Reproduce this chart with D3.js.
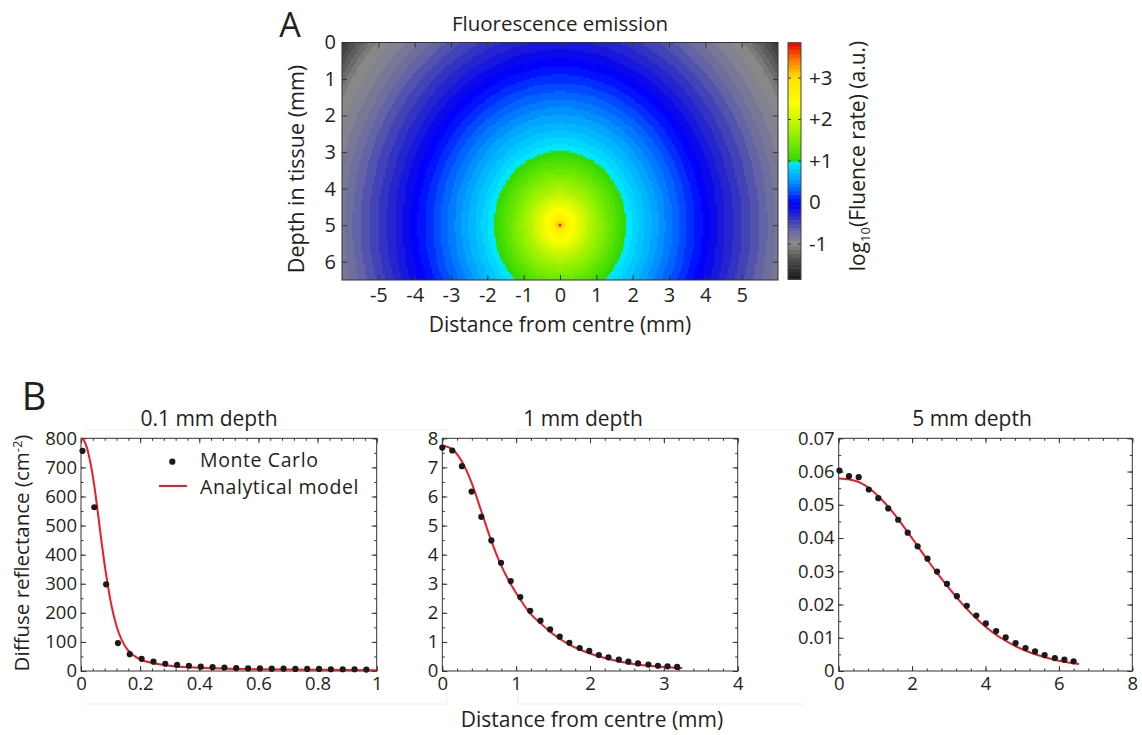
<!DOCTYPE html>
<html>
<head>
<meta charset="utf-8">
<script src="https://cdn.jsdelivr.net/npm/d3@7"></script>
<style>
  body { margin: 0; background: #fff; }
  svg { display: block; font-family: "Open Sans", sans-serif; }
</style>
</head>
<body>
<svg id="fig" width="1142" height="735"></svg>
<script>
// ---------------- data ----------------
// Panel A: log10 fluence rate versus (laterally weighted) distance from the source at (0 mm, 5 mm)
const profileRadius = [0, 0.05, 0.1, 0.2, 0.35, 0.5, 0.75, 1, 1.5, 2, 2.5, 3, 3.5, 4, 4.5, 5, 5.5, 6, 6.5, 7, 7.5, 8, 8.5];
const profileLog    = [3.84, 3.2, 2.95, 2.7, 2.45, 2.3, 2.0, 1.75, 1.35, 1.0, 0.76, 0.55, 0.34, 0.14, -0.05, -0.24, -0.42, -0.58, -0.76, -0.92, -1.05, -1.35, -1.7];
const sourceX = 0, sourceDepth = 5;
const lateralWeight = 1.11;

// colour map for log10 fluence rate
const cmapValues = [-1.86, -1.4, -1.0, -0.7, -0.4, -0.1, 0.0, 0.3, 0.6, 0.999, 1.0, 1.5, 2.0, 2.4, 3.0, 3.4, 3.84];
const cmapColors = ["#1a1a1a", "#4a4a4a", "#8a8a8a", "#6a6aa0", "#3535c0", "#0505f0", "#0000ff", "#0060ff",
                    "#00a8ff", "#00f0ff", "#30d800", "#80ee00", "#ccf800", "#ffff00", "#ffe000", "#ff8000", "#e80000"];
const cbarTicks = [-1, 0, 1, 2, 3];
const cbarTickLabels = ["-1", "0", "+1", "+2", "+3"];
const offsetTicks = [-5, -4, -3, -2, -1, 0, 1, 2, 3, 4, 5];
const depthTicks = [0, 1, 2, 3, 4, 5, 6];

// Panel B: diffuse reflectance profiles
const mc01X = [0.005, 0.045, 0.085, 0.125, 0.165, 0.205, 0.245, 0.285, 0.325, 0.365, 0.405, 0.445, 0.485,
               0.525, 0.565, 0.605, 0.645, 0.685, 0.725, 0.765, 0.805, 0.845, 0.885, 0.925, 0.965];
const mc01Y = [757, 563, 298, 96, 58, 42, 32, 25, 21, 18, 15, 13, 12, 10, 9, 9, 8, 8, 7, 7, 7, 6, 6, 6, 5];
const model01X = [0, 0.01, 0.02, 0.03, 0.04, 0.05, 0.06, 0.07, 0.08, 0.09, 0.10, 0.12, 0.14, 0.16, 0.18, 0.20, 0.25, 0.30, 0.40, 0.50, 0.60, 0.80, 1.00];
const model01Y = [800, 792, 768, 725, 670, 600, 520, 440, 365, 300, 240, 155, 102, 70, 52, 40, 26, 18, 11, 8, 6, 4, 3];

const mc1X = [0, 0.135, 0.266, 0.397, 0.528, 0.664, 0.795, 0.926, 1.056, 1.19, 1.33, 1.46, 1.59,
              1.72, 1.86, 1.99, 2.12, 2.25, 2.39, 2.52, 2.65, 2.79, 2.92, 3.05, 3.18];
const mc1Y = [7.68, 7.58, 7.04, 6.17, 5.30, 4.49, 3.72, 3.09, 2.54, 2.07, 1.73, 1.43, 1.18,
              0.97, 0.79, 0.69, 0.55, 0.47, 0.39, 0.32, 0.26, 0.22, 0.18, 0.16, 0.14];
const model1X = [0, 0.135, 0.266, 0.4, 0.53, 0.66, 0.795, 0.93, 1.06, 1.19, 1.33, 1.46, 1.59, 1.72, 1.86, 1.99, 2.25, 2.52, 2.79, 3.05, 3.25];
const model1Y = [7.75, 7.62, 7.2, 6.45, 5.48, 4.5, 3.64, 2.97, 2.44, 1.98, 1.64, 1.35, 1.11, 0.91, 0.74, 0.61, 0.41, 0.27, 0.18, 0.13, 0.10];

const mc5X = [0.02, 0.28, 0.545, 0.82, 1.08, 1.35, 1.62, 1.88, 2.15, 2.42, 2.68, 2.95, 3.22,
              3.49, 3.75, 4.01, 4.29, 4.55, 4.82, 5.09, 5.35, 5.61, 5.89, 6.15, 6.40];
const mc5Y = [0.0603, 0.0586, 0.0583, 0.0546, 0.0520, 0.0489, 0.0455, 0.0416, 0.0375, 0.0338, 0.0299, 0.0262, 0.0225,
              0.0196, 0.0167, 0.0143, 0.0120, 0.0101, 0.0084, 0.0069, 0.0059, 0.0048, 0.0039, 0.0034, 0.0029];
const model5X = [0, 0.3, 0.6, 0.9, 1.2, 1.5, 1.8, 2.1, 2.4, 2.7, 3.0, 3.3, 3.6, 3.9, 4.2, 4.5, 4.8, 5.1, 5.4, 5.7, 6.0, 6.3, 6.55];
const model5Y = [0.0579, 0.0576, 0.0566, 0.0544, 0.0512, 0.0474, 0.0430, 0.0384, 0.0337, 0.0292, 0.0250, 0.0210,
                 0.0174, 0.0143, 0.0116, 0.0094, 0.0076, 0.0061, 0.0049, 0.0039, 0.0031, 0.0025, 0.0021];

const panelTitles = ["0.1 mm depth", "1 mm depth", "5 mm depth"];
const legendLabels = ["Monte Carlo", "Analytical model"];

// ---------------- drawing ----------------
const svg = d3.select("#fig");
const ink = "#231f20";
const red = "#ed1c24";

function styleAxis(g, fs) {
  g.select(".domain").remove();
  g.selectAll(".tick line").attr("stroke", "#333");
  g.selectAll(".tick text").attr("font-size", fs).attr("fill", ink).attr("font-family", "Open Sans");
}

// ===== Panel A: fluence map =====
const heat = { left: 342, right: 778, top: 42.5, bottom: 280 };
const xA = d3.scaleLinear().domain([-6, 6]).range([heat.left, heat.right]);
const yA = d3.scaleLinear().domain([0, 6.5]).range([heat.top, heat.bottom]);

const radialLog = d3.scaleLinear().domain(profileRadius).range(profileLog).clamp(true);
const cmapDomain = [cmapValues[0], cmapValues[cmapValues.length - 1]];
const colorRaw = d3.scaleLinear().domain(cmapValues).range(cmapColors).interpolate(d3.interpolateRgb).clamp(true);
const nLevels = 64;
const levelScale = d3.scaleQuantize().domain(cmapDomain).range(d3.range(nLevels));
const levelValue = l => cmapDomain[0] + (l + 0.5) * (cmapDomain[1] - cmapDomain[0]) / nLevels;
const colorOf = v => colorRaw(levelValue(levelScale(v)));

// raster of the field, one pixel per 0.05 mm cell
const cell = 0.05;
const nx = Math.round(12 / cell) + 1, ny = Math.round(6.5 / cell) + 1;
const canvas = document.createElement("canvas");
canvas.width = nx; canvas.height = ny;
const ctx = canvas.getContext("2d");
for (let i = 0; i < nx; i++) {
  for (let j = 0; j < ny; j++) {
    const x = -6 + i * cell, y = j * cell;
    const r = Math.hypot((x - sourceX) * lateralWeight, y - sourceDepth);
    ctx.fillStyle = colorOf(radialLog(r));
    ctx.fillRect(i, j, 1, 1);
  }
}
svg.append("clipPath").attr("id", "heatClip")
  .append("rect").attr("x", heat.left).attr("y", heat.top)
  .attr("width", heat.right - heat.left).attr("height", heat.bottom - heat.top);
svg.append("image")
  .attr("href", canvas.toDataURL())
  .attr("x", xA(-6 - cell / 2)).attr("y", yA(-cell / 2))
  .attr("width", xA(6 + cell / 2) - xA(-6 - cell / 2))
  .attr("height", yA(6.5 + cell / 2) - yA(-cell / 2))
  .attr("preserveAspectRatio", "none")
  .style("image-rendering", "pixelated")
  .attr("clip-path", "url(#heatClip)");

svg.append("g").attr("transform", `translate(0,${heat.bottom})`)
  .call(d3.axisBottom(xA).tickValues(offsetTicks).tickFormat(d => String(d)).tickSizeInner(-5).tickSizeOuter(0).tickPadding(8))
  .call(g => styleAxis(g, 20));
svg.append("g").attr("transform", `translate(${heat.left},0)`)
  .call(d3.axisLeft(yA).tickValues(depthTicks).tickFormat(d => String(d)).tickSizeInner(-5).tickSizeOuter(0).tickPadding(6))
  .call(g => styleAxis(g, 20));
svg.append("g").attr("transform", `translate(${heat.right},0)`)
  .call(d3.axisRight(yA).tickValues(depthTicks).tickFormat("").tickSizeInner(-5).tickSizeOuter(0))
  .call(g => styleAxis(g, 20));
svg.append("g").attr("transform", `translate(0,${heat.top})`)
  .call(d3.axisTop(xA).tickValues(offsetTicks).tickFormat("").tickSizeInner(-5).tickSizeOuter(0))
  .call(g => styleAxis(g, 20));
svg.append("rect").attr("x", heat.left).attr("y", heat.top)
  .attr("width", heat.right - heat.left).attr("height", heat.bottom - heat.top)
  .attr("fill", "none").attr("stroke", "#333").attr("stroke-width", 1);

svg.append("text").attr("x", 560).attr("y", 31).attr("text-anchor", "middle")
  .attr("font-size", 20.5).attr("fill", ink).text("Fluorescence emission");
svg.append("text").attr("x", 560).attr("y", 332).attr("text-anchor", "middle")
  .attr("font-size", 21).attr("fill", ink).text("Distance from centre (mm)");
svg.append("text").attr("transform", "translate(304,169) rotate(-90)").attr("text-anchor", "middle")
  .attr("font-size", 21.5).attr("fill", ink).text("Depth in tissue (mm)");
svg.append("text").attr("x", 290).attr("y", 37).attr("text-anchor", "middle")
  .attr("font-size", 34).attr("fill", ink).text("A");

// colour bar
const cbar = { left: 788, right: 801, top: 42.7, bottom: 279.3 };
const yC = d3.scaleLinear().domain(cmapDomain).range([cbar.bottom, cbar.top]);
const levelEdge = l => cmapDomain[0] + l * (cmapDomain[1] - cmapDomain[0]) / nLevels;
svg.append("g").selectAll("rect").data(d3.range(nLevels)).join("rect")
  .attr("x", cbar.left).attr("width", cbar.right - cbar.left)
  .attr("y", l => yC(levelEdge(l + 1)))
  .attr("height", l => yC(levelEdge(l)) - yC(levelEdge(l + 1)) + 0.5)
  .attr("fill", l => colorRaw(levelValue(l)));
svg.append("g").attr("transform", `translate(${cbar.right},0)`)
  .call(d3.axisRight(yC).tickValues(cbarTicks).tickFormat((d, i) => cbarTickLabels[i]).tickSizeInner(-3).tickSizeOuter(0).tickPadding(8))
  .call(g => styleAxis(g, 20.5));
svg.append("g").attr("transform", `translate(${cbar.left},0)`)
  .call(d3.axisLeft(yC).tickValues(cbarTicks).tickFormat("").tickSizeInner(-3).tickSizeOuter(0))
  .call(g => styleAxis(g, 20));
svg.append("rect").attr("x", cbar.left).attr("y", cbar.top)
  .attr("width", cbar.right - cbar.left).attr("height", cbar.bottom - cbar.top)
  .attr("fill", "none").attr("stroke", "#444").attr("stroke-width", 1);
const cbLabel = svg.append("text").attr("transform", "translate(865,156) rotate(-90)")
  .attr("text-anchor", "middle").attr("font-size", 21).attr("fill", ink);
cbLabel.append("tspan").text("log");
cbLabel.append("tspan").attr("font-size", 13).attr("dy", 5).text("10");
cbLabel.append("tspan").attr("dy", -5).text("(Fluence rate) (a.u.)");

// ===== Panel B: reflectance profiles =====
const bTop = 438.3, bBottom = 671;

// faint edges of the panel backgrounds
svg.append("g").attr("stroke", "#eeeeee").attr("stroke-width", 1)
  .call(g => g.append("line").attr("x1", 85).attr("x2", 446.7).attr("y1", 430).attr("y2", 430))
  .call(g => g.append("line").attr("x1", 85).attr("x2", 446.7).attr("y1", 704).attr("y2", 704))
  .call(g => g.append("line").attr("x1", 446.7).attr("x2", 446.7).attr("y1", 430).attr("y2", 704))
  .call(g => g.append("line").attr("x1", 518).attr("x2", 863).attr("y1", 430).attr("y2", 430))
  .call(g => g.append("line").attr("x1", 518).attr("x2", 805).attr("y1", 704).attr("y2", 704))
  .call(g => g.append("line").attr("x1", 518).attr("x2", 518).attr("y1", 430).attr("y2", 704));

const panels = [
  { left: 81, right: 376.7, xMax: 1, yMax: 800, xMajor: 0.2, yMajor: 100, xMinor: 0.04, yMinor: 50,
    xFmt: d => String(+d.toFixed(1)), yFmt: d => String(d),
    mcX: mc01X, mcY: mc01Y, modelX: model01X, modelY: model01Y, titleX: 209 },
  { left: 442.3, right: 737.7, xMax: 4, yMax: 8, xMajor: 1, yMajor: 1, xMinor: 0.2, yMinor: 0.5,
    xFmt: d => String(d), yFmt: d => String(d),
    mcX: mc1X, mcY: mc1Y, modelX: model1X, modelY: model1Y, titleX: 583 },
  { left: 838.7, right: 1132.3, xMax: 8, yMax: 0.07, xMajor: 2, yMajor: 0.01, xMinor: 0.4, yMinor: 0.005,
    xFmt: d => String(d), yFmt: d => d === 0 ? "0" : d.toFixed(2),
    mcX: mc5X, mcY: mc5Y, modelX: model5X, modelY: model5Y, titleX: 972 }
];

panels.forEach((p, k) => {
  const x = d3.scaleLinear().domain([0, p.xMax]).range([p.left, p.right]);
  const y = d3.scaleLinear().domain([0, p.yMax]).range([bBottom, bTop]);
  const g = svg.append("g");
  const steps = (max, step) => d3.range(0, max + step / 2, step).map(v => +v.toFixed(6));
  const xMaj = steps(p.xMax, p.xMajor), yMaj = steps(p.yMax, p.yMajor);
  const xMin = steps(p.xMax, p.xMinor), yMin = steps(p.yMax, p.yMinor);

  g.append("rect").attr("x", p.left).attr("y", bTop).attr("width", p.right - p.left).attr("height", bBottom - bTop)
    .attr("fill", "#fff");
  // minor ticks on all sides
  g.append("g").attr("transform", `translate(0,${bBottom})`)
    .call(d3.axisBottom(x).tickValues(xMin).tickFormat("").tickSizeInner(-2.5).tickSizeOuter(0)).call(a => styleAxis(a, 18));
  g.append("g").attr("transform", `translate(0,${bTop})`)
    .call(d3.axisTop(x).tickValues(xMin).tickFormat("").tickSizeInner(-2.5).tickSizeOuter(0)).call(a => styleAxis(a, 18));
  g.append("g").attr("transform", `translate(${p.left},0)`)
    .call(d3.axisLeft(y).tickValues(yMin).tickFormat("").tickSizeInner(-2.5).tickSizeOuter(0)).call(a => styleAxis(a, 18));
  g.append("g").attr("transform", `translate(${p.right},0)`)
    .call(d3.axisRight(y).tickValues(yMin).tickFormat("").tickSizeInner(-2.5).tickSizeOuter(0)).call(a => styleAxis(a, 18));
  // major ticks and labels
  g.append("g").attr("transform", `translate(0,${bBottom})`)
    .call(d3.axisBottom(x).tickValues(xMaj).tickFormat(p.xFmt).tickSizeInner(-5).tickSizeOuter(0).tickPadding(6)).call(a => styleAxis(a, 18.5));
  g.append("g").attr("transform", `translate(0,${bTop})`)
    .call(d3.axisTop(x).tickValues(xMaj).tickFormat("").tickSizeInner(-5).tickSizeOuter(0)).call(a => styleAxis(a, 18));
  g.append("g").attr("transform", `translate(${p.left},0)`)
    .call(d3.axisLeft(y).tickValues(yMaj).tickFormat(p.yFmt).tickSizeInner(-5).tickSizeOuter(0).tickPadding(4)).call(a => styleAxis(a, 18.5));
  g.append("g").attr("transform", `translate(${p.right},0)`)
    .call(d3.axisRight(y).tickValues(yMaj).tickFormat("").tickSizeInner(-5).tickSizeOuter(0)).call(a => styleAxis(a, 18));
  g.append("rect").attr("x", p.left).attr("y", bTop).attr("width", p.right - p.left).attr("height", bBottom - bTop)
    .attr("fill", "none").attr("stroke", "#333").attr("stroke-width", 1);

  // analytical model
  const line = d3.line().x((d, i) => x(p.modelX[i])).y(d => y(d)).curve(d3.curveMonotoneX);
  g.append("path").attr("d", line(p.modelY)).attr("fill", "none").attr("stroke", red).attr("stroke-width", 2);
  // Monte Carlo points
  g.selectAll("circle.mc").data(p.mcY).join("circle").attr("class", "mc")
    .attr("cx", (d, i) => x(p.mcX[i])).attr("cy", d => y(d)).attr("r", 3.1).attr("fill", "#1a1a1a");

  svg.append("text").attr("x", p.titleX).attr("y", 426).attr("text-anchor", "middle")
    .attr("font-size", 21).attr("fill", ink).text(panelTitles[k]);
});

// legend (first panel)
svg.append("circle").attr("cx", 172.3).attr("cy", 461.7).attr("r", 3.1).attr("fill", "#1a1a1a");
svg.append("text").attr("x", 200).attr("y", 467).attr("font-size", 19.5).attr("letter-spacing", 0.6)
  .attr("fill", ink).text(legendLabels[0]);
svg.append("line").attr("x1", 159).attr("x2", 187).attr("y1", 486).attr("y2", 486).attr("stroke", red).attr("stroke-width", 2);
svg.append("text").attr("x", 200).attr("y", 494).attr("font-size", 19.5).attr("letter-spacing", 0.6)
  .attr("fill", ink).text(legendLabels[1]);

// shared labels
const yLab = svg.append("text").attr("transform", "translate(29,553) rotate(-90)")
  .attr("text-anchor", "middle").attr("font-size", 20.5).attr("fill", ink);
yLab.append("tspan").text("Diffuse reflectance (cm");
yLab.append("tspan").attr("font-size", 13).attr("dy", -7).text("-2");
yLab.append("tspan").attr("dy", 7).text(")");
svg.append("text").attr("x", 592).attr("y", 727).attr("text-anchor", "middle")
  .attr("font-size", 21).attr("fill", ink).text("Distance from centre (mm)");
svg.append("text").attr("x", 34).attr("y", 410).attr("text-anchor", "middle")
  .attr("font-size", 38).attr("fill", ink).text("B");
</script>
</body>
</html>
